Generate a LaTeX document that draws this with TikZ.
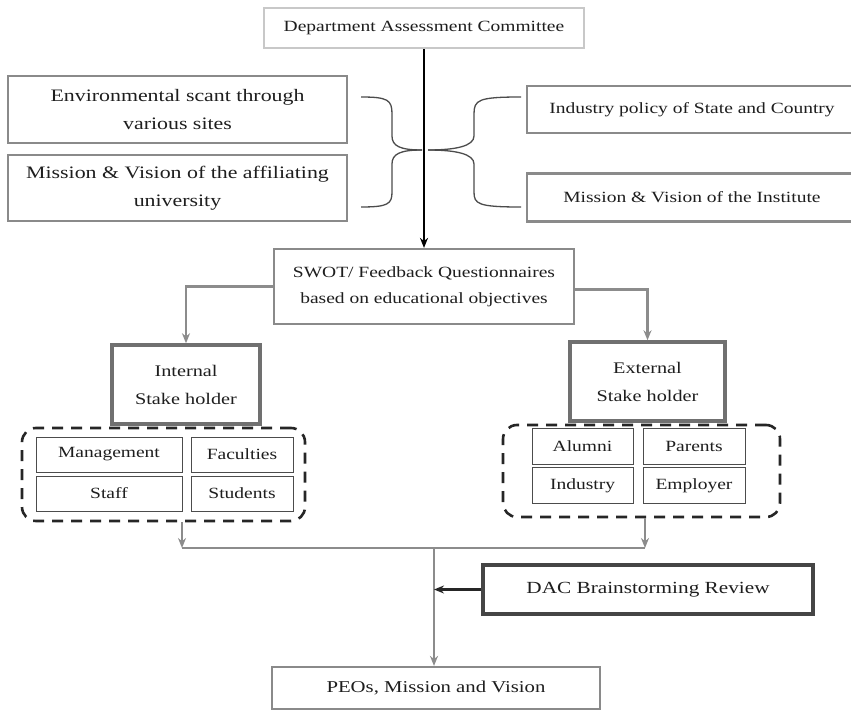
\documentclass[tikz,border=0pt]{standalone}
\usepackage{fontspec}
\setmainfont{Liberation Serif}[FakeStretch=1.25]
\usetikzlibrary{arrows.meta}
\definecolor{ink}{HTML}{1E1E1E}
\definecolor{frame}{HTML}{8A8A8A}
\definecolor{paleframe}{HTML}{C8C8C8}
\definecolor{thickframe}{HTML}{707070}
\definecolor{darkframe}{HTML}{454545}
\definecolor{flow}{HTML}{8C8C8C}
\tikzset{
  box/.style={draw=frame, line width=2.2pt, inner sep=0pt, align=center, text=ink, font=\fontsize{15.6}{26}\selectfont},
  palebox/.style={box, draw=paleframe, line width=2.6pt},
  bigtext/.style={font=\fontsize{17.5}{28}\selectfont},
  stakebox/.style={box, draw=thickframe, line width=3.5pt, font=\fontsize{16.2}{28}\selectfont},
  reviewbox/.style={box, draw=darkframe, line width=3.5pt, font=\fontsize{17}{26}\selectfont},
  cell/.style={draw=black!70, line width=1pt, inner sep=0pt, align=center, text=ink, font=\fontsize{15.6}{20}\selectfont},
  group/.style={draw=black!85, line width=2.6pt, dash pattern=on 11pt off 8pt, rounded corners=14pt, inner sep=0pt},
  mainarrow/.style={draw=black, line width=2.4pt, -{Stealth[length=10pt,width=8pt]}},
  greyarrow/.style={draw=flow, line width=2.2pt, -{Stealth[length=10pt,width=8pt]}},
  greyline/.style={draw=flow, line width=2.2pt},
  bracketline/.style={draw=black!70, line width=1.3pt},
}
\begin{document}
\begin{tikzpicture}[x=1pt,y=-1pt]
\useasboundingbox[fill=white] (0,0) rectangle (851,711);

% top
\node[palebox, minimum width=320pt, minimum height=40pt] (dac) at (424,28) {Department Assessment Committee};

% side boxes
\node[box, bigtext, minimum width=339pt, minimum height=67pt] (env) at (177.5,109.5) {Environmental scant through\\various sites};
\node[box, bigtext, minimum width=339pt, minimum height=66pt] (maff) at (177.5,188) {Mission \& Vision of the affiliating\\university};
\node[box, minimum width=346pt, minimum height=47pt] (ind) at (700,109.5) {\hspace*{-16pt}Industry policy of State and Country};
\node[box, minimum width=346pt, minimum height=48pt] (mins) at (700,197.5) {\hspace*{-16pt}Mission \& Vision of the Institute};

% braces
\coordinate (lt) at (361,97);
\coordinate (lb) at (361,207);
\coordinate (ltip) at (422,150);
\coordinate (rt) at (521,97);
\coordinate (rb) at (521,207);
\coordinate (rtip) at (428,150);
\draw[bracketline] (lt) .. controls (388,97) and (392,100) .. (392,114) -- (392,136) .. controls (392,146) and (400,150) .. (ltip);
\draw[bracketline] (ltip) .. controls (400,150) and (392,154) .. (392,164) -- (392,192) .. controls (392,204) and (388,207) .. (lb);
\draw[bracketline] (rt) .. controls (478,97) and (474,100) .. (474,114) -- (474,136) .. controls (474,146) and (456,150) .. (rtip);
\draw[bracketline] (rtip) .. controls (456,150) and (474,154) .. (474,164) -- (474,192) .. controls (474,204) and (478,207) .. (rb);

% SWOT
\node[box, minimum width=300pt, minimum height=75pt] (swot) at (424,286.5) {SWOT/ Feedback Questionnaires\\based on educational objectives};
\draw[mainarrow] (dac.south) -- (swot.north);

% stakeholders
\node[stakebox, minimum width=148pt, minimum height=79pt] (int) at (186,384.5) {Internal\\Stake holder};
\node[stakebox, minimum width=155pt, minimum height=79pt] (ext) at (647.5,381.5) {External\\Stake holder};
\draw[greyarrow] (swot.west) -| (int.north);
\draw[greyarrow] ([yshift=-3pt]swot.east) -| (ext.north);

% internal group
\node[group, minimum width=283pt, minimum height=93pt] (igroup) at (163.5,474.5) {};
\node[cell, minimum width=146pt, minimum height=35pt] (mgmt) at (109,454.5) {Management};
\node[cell, minimum width=102pt, minimum height=35pt] (fac) at (242,454.5) {Faculties};
\node[cell, minimum width=146pt, minimum height=35pt] (staff) at (109,493.5) {Staff};
\node[cell, minimum width=102pt, minimum height=35pt] (stud) at (242,493.5) {Students};

% external group
\node[group, minimum width=277pt, minimum height=92pt] (egroup) at (641.5,471) {};
\node[cell, minimum width=101pt, minimum height=36pt] (alum) at (582.5,446.5) {Alumni};
\node[cell, minimum width=102pt, minimum height=36pt] (par) at (694,446.5) {Parents};
\node[cell, minimum width=101pt, minimum height=36pt] (indy) at (582.5,485.5) {Industry};
\node[cell, minimum width=102pt, minimum height=36pt] (emp) at (694,485.5) {Employer};

% merge
\coordinate (jl) at (182,548);
\coordinate (jr) at (645,548);
\coordinate (jm) at (434,548);
\draw[greyarrow] (igroup.south -| jl) -- (jl);
\draw[greyarrow] (egroup.south -| jr) -- (jr);
\draw[greyline] (jl) -- (jr);

% review and outcome
\node[reviewbox, minimum width=330pt, minimum height=49pt] (review) at (648,589.5) {DAC Brainstorming Review};
\node[box, minimum width=328pt, minimum height=42pt, font=\fontsize{16.6}{26}\selectfont] (peo) at (436,688) {PEOs, Mission and Vision};
\draw[greyarrow] (jm) -- (peo.north -| jm);
\draw[mainarrow, draw=black!85] (review.west) -- (review.west -| jm);
\end{tikzpicture}
\end{document}
